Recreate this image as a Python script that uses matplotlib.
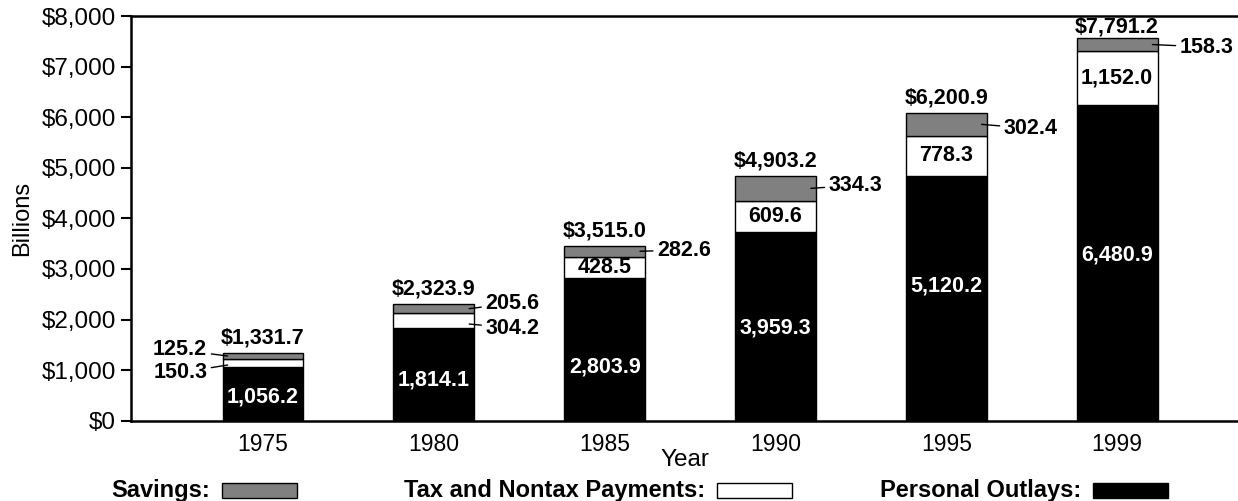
import numpy as np
import matplotlib.pyplot as plt
from matplotlib.patches import Rectangle
from matplotlib.ticker import FuncFormatter

plt.rcParams['font.family'] = ['Liberation Sans', 'DejaVu Sans']

# values printed on the chart
years = ['1975', '1980', '1985', '1990', '1995', '1999']
outlays = [1056.2, 1814.1, 2803.9, 3959.3, 5120.2, 6480.9]
taxes = [150.3, 304.2, 428.5, 609.6, 778.3, 1152.0]
savings = [125.2, 205.6, 282.6, 334.3, 302.4, 158.3]
totals = [1331.7, 2323.9, 3515.0, 4903.2, 6200.9, 7791.2]

# segment heights as they are drawn in the original (not quite to scale)
outlays_drawn = [1067, 1826, 2815, 3736, 4843, 6240]
taxes_drawn = [147, 297, 427, 613, 785, 1074]
savings_drawn = [130, 184, 217, 488, 460, 245]

gray = '#808080'

fig = plt.figure(figsize=(12.38, 5.01), dpi=100)
ax = fig.add_axes([0.1058, 0.1603, 0.8942, 0.8077])

x = np.arange(len(years))
w = 0.474
b1 = np.array(outlays_drawn)
b2 = b1 + np.array(taxes_drawn)
b3 = b2 + np.array(savings_drawn)

ax.bar(x, outlays_drawn, w, color='black', edgecolor='black', lw=1)
ax.bar(x, taxes_drawn, w, bottom=b1, color='white', edgecolor='black', lw=1)
ax.bar(x, savings_drawn, w, bottom=b2, color=gray, edgecolor='black', lw=1)

ax.set_xlim(-0.773, 5.708)
ax.set_ylim(0, 8000)
ax.set_xticks(x)
ax.set_xticklabels(years, fontsize=16.5)
ax.set_yticks(np.arange(0, 8001, 1000))
ax.yaxis.set_major_formatter(FuncFormatter(lambda v, p: f'${v:,.0f}'))
ax.tick_params(axis='y', labelsize=17.5, length=7, width=1.5, direction='out', pad=4)
ax.tick_params(axis='x', length=0, pad=9)
for s in ['left', 'top', 'bottom']:
    ax.spines[s].set_linewidth(1.8)
ax.spines['right'].set_visible(False)

ax.set_xlabel('Year', fontsize=17.5, labelpad=-5)
ax.set_ylabel('Billions', fontsize=17, labelpad=6)

bold = dict(fontsize=15.5, fontweight='bold')
line = dict(arrowstyle='-', lw=1, color='black', shrinkA=1, shrinkB=0)

# totals above the bars
for i in range(len(years)):
    off = 8 if i == 5 else 10.5
    ax.annotate(f'${totals[i]:,.1f}', (x[i], b3[i]), xytext=(0, off),
                textcoords='offset points', ha='center', va='center', **bold)

# personal outlays, white text inside the black part
black_y = [474, 804, 1067, 1832, 2663, 3275]
for i in range(len(years)):
    ax.text(x[i], black_y[i], f'{outlays[i]:,.1f}', color='white',
            ha='center', va='center', **bold)

# tax labels inside the white part (1985 onwards)
for i in range(2, len(years)):
    ax.text(x[i], (b1[i] + b2[i]) / 2, f'{taxes[i]:,.1f}', color='black',
            ha='center', va='center', **bold)

# savings labels to the right with a leader line
gap = [0, 0, 0.07, 0.075, 0.1, 0.13]
shift = [0, 0, 20, 60, -80, -50]
for i in range(2, len(years)):
    ym = (b2[i] + b3[i]) / 2
    ax.annotate(f'{savings[i]:,.1f}', (x[i] + w / 2 - 0.03, ym),
                xytext=(x[i] + w / 2 + gap[i], ym + shift[i]),
                ha='left', va='center', arrowprops=line, **bold)

# 1975: labels on the left
ax.annotate(f'{savings[0]:,.1f}', (x[0] - w / 2 + 0.03, (b2[0] + b3[0]) / 2),
            xytext=(x[0] - w / 2 - 0.09, 1398), ha='right', va='center',
            arrowprops=line, **bold)
ax.annotate(f'{taxes[0]:,.1f}', (x[0] - w / 2 + 0.03, 1101),
            xytext=(x[0] - w / 2 - 0.09, 949), ha='right', va='center',
            arrowprops=line, **bold)

# 1980: labels on the right
ax.annotate(f'{savings[1]:,.1f}', (x[1] + w / 2 - 0.03, (b2[1] + b3[1]) / 2),
            xytext=(x[1] + w / 2 + 0.065, 2321), ha='left', va='center',
            arrowprops=line, **bold)
ax.annotate(f'{taxes[1]:,.1f}', (x[1] + w / 2 - 0.03, 1911),
            xytext=(x[1] + w / 2 + 0.065, 1832), ha='left', va='center',
            arrowprops=line, **bold)

# legend row along the bottom
W, H = 1238.0, 501.0
legend = [('Savings:', gray, 221.7), ('Tax and Nontax Payments:', 'white', 716.7),
          ('Personal Outlays:', 'black', 1093.0)]
for label, col, left in legend:
    fig.patches.append(Rectangle((left / W, (501 - 497.7) / H), 75 / W, 15 / H,
                                 transform=fig.transFigure, facecolor=col,
                                 edgecolor='black', lw=1))
    fig.text((left - 12) / W, (501 - 490.5) / H, label, ha='right', va='center',
             fontsize=17, fontweight='bold')

fig.savefig('out.png', dpi=100)
